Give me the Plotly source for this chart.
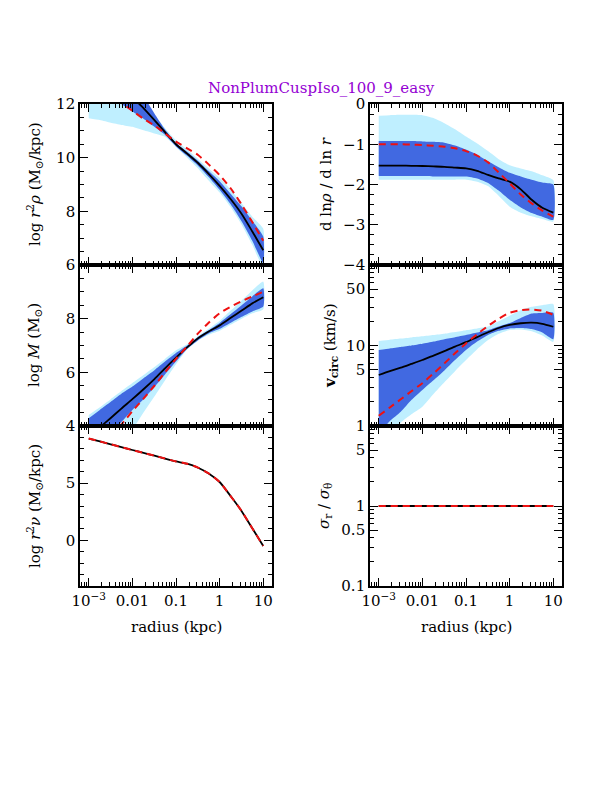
import plotly.graph_objects as go

# ---------------- data ----------------
radius = [0.001, 0.0018, 0.0032, 0.0056, 0.01, 0.018, 0.032, 0.056, 0.1,
          0.18, 0.32, 0.56, 1.0, 1.8, 3.2, 5.6, 10.0]

# panel: log r^2 rho
rho_fit = [13.9, 13.5, 13.1, 12.7, 12.25, 11.85, 11.4, 10.95, 10.5, 10.15, 9.8, 9.4, 8.95, 8.45, 7.9, 7.25, 6.55]
rho_true = [13.0, 12.7, 12.4, 12.05, 11.75, 11.45, 11.2, 10.9, 10.6, 10.35, 10.1, 9.75, 9.35, 8.85, 8.25, 7.6, 6.9]
rho_lo95 = [11.47, 11.4, 11.3, 11.22, 11.15, 11.02, 10.9, 10.78, 10.4, 10.0, 9.6, 9.15, 8.7, 8.15, 7.5, 6.75, 5.9]
rho_hi95 = [14.5, 14.0, 13.5, 13.1, 12.6, 12.1, 11.6, 11.1, 10.65, 10.3, 9.95, 9.6, 9.25, 8.8, 8.3, 7.8, 7.35]
rho_lo68 = [12.8, 12.5, 12.25, 12.0, 11.72, 11.45, 11.15, 10.85, 10.42, 10.07, 9.7, 9.28, 8.8, 8.25, 7.62, 6.9, 6.07]
rho_hi68 = [15.0, 14.5, 14.0, 13.5, 12.9, 12.3, 11.65, 11.05, 10.55, 10.22, 9.88, 9.5, 9.12, 8.65, 8.18, 7.65, 7.06]

# panel: log M
mass_fit = [3.6, 3.95, 4.3, 4.65, 5.0, 5.37, 5.75, 6.15, 6.55, 6.93, 7.27, 7.52, 7.75, 8.03, 8.3, 8.57, 8.8]
mass_true = [2.6, 3.05, 3.55, 4.05, 4.55, 5.02, 5.5, 6.0, 6.5, 6.97, 7.45, 7.85, 8.2, 8.45, 8.65, 8.83, 9.0]
mass_lo95 = [1.5, 2.0, 2.6, 3.25, 3.85, 4.5, 5.1, 5.7, 6.3, 6.85, 7.18, 7.4, 7.55, 7.78, 8.0, 8.2, 8.35]
mass_hi95 = [4.41, 4.7, 5.0, 5.3, 5.6, 5.9, 6.2, 6.5, 6.82, 7.05, 7.35, 7.62, 7.92, 8.3, 8.68, 9.05, 9.38]
mass_lo68 = [2.8, 3.3, 3.75, 4.15, 4.6, 5.0, 5.45, 5.92, 6.4, 6.88, 7.2, 7.45, 7.62, 7.85, 8.07, 8.27, 8.45]
mass_hi68 = [4.29, 4.6, 4.9, 5.2, 5.47, 5.78, 6.08, 6.4, 6.72, 7.0, 7.32, 7.57, 7.84, 8.17, 8.5, 8.83, 9.13]

# panel: log r^2 nu (tracer)
nu_fit = [8.9, 8.65, 8.4, 8.15, 7.9, 7.65, 7.4, 7.15, 6.9, 6.7, 6.35, 5.85, 5.1, 3.85, 2.55, 1.05, -0.5]
nu_true = [8.9, 8.65, 8.4, 8.15, 7.9, 7.65, 7.4, 7.15, 6.9, 6.7, 6.35, 5.85, 5.1, 3.85, 2.55, 1.05, -0.5]

# panel: d ln rho / d ln r
slope_fit = [-1.53, -1.53, -1.53, -1.535, -1.54, -1.55, -1.56, -1.58, -1.6, -1.66, -1.76, -1.85, -1.93, -2.12, -2.38, -2.58, -2.7]
slope_true = [-1.0, -1.0, -1.0, -1.01, -1.02, -1.04, -1.06, -1.1, -1.17, -1.28, -1.45, -1.7, -1.97, -2.25, -2.47, -2.65, -2.8]
slope_lo95 = [-1.88, -1.88, -1.88, -1.88, -1.88, -1.88, -1.88, -1.88, -1.88, -1.93, -2.04, -2.28, -2.55, -2.7, -2.79, -2.86, -2.92]
slope_hi95 = [-0.29, -0.28, -0.27, -0.27, -0.28, -0.35, -0.48, -0.63, -0.81, -0.98, -1.17, -1.37, -1.52, -1.6, -1.67, -1.77, -1.89]
slope_lo68 = [-1.79, -1.79, -1.79, -1.79, -1.79, -1.8, -1.8, -1.8, -1.8, -1.85, -1.96, -2.15, -2.38, -2.57, -2.71, -2.8, -2.88]
slope_hi68 = [-0.92, -0.92, -0.92, -0.92, -0.93, -0.94, -0.96, -1.03, -1.13, -1.26, -1.42, -1.57, -1.71, -1.8, -1.88, -1.95, -2.0]

# panel: v_circ (km/s)
vc_fit = [4.3, 4.8, 5.3, 5.9, 6.6, 7.5, 8.5, 9.7, 11.0, 12.7, 14.6, 16.5, 18.0, 18.9, 19.2, 18.6, 17.1]
vc_true = [1.34, 1.7, 2.15, 2.7, 3.4, 4.5, 6.0, 8.0, 10.6, 13.8, 17.5, 21.5, 25.5, 27.5, 28.0, 27.0, 24.0]
vc_lo95 = [0.4, 0.7, 1.1, 1.4, 1.74, 2.5, 3.5, 4.8, 6.6, 9.0, 11.7, 14.0, 15.6, 15.8, 15.0, 13.3, 11.1]
vc_hi95 = [11.4, 11.8, 12.2, 12.6, 13.0, 13.5, 14.0, 14.7, 15.5, 16.3, 17.2, 20.0, 23.5, 27.5, 30.3, 31.7, 32.7]
vc_lo68 = [0.8, 1.15, 1.5, 2.1, 2.8, 3.7, 4.9, 6.6, 8.8, 11.2, 13.5, 15.2, 16.3, 16.5, 16.0, 14.5, 12.0]
vc_hi68 = [8.8, 9.2, 9.6, 10.0, 10.5, 11.2, 12.0, 12.7, 13.5, 14.5, 15.5, 17.2, 19.0, 22.0, 25.0, 25.4, 25.5]

# panel: sigma_r / sigma_theta
beta_fit = [1.0] * 17
beta_true = [1.0] * 17

x_tickvals = [0.001, 0.01, 0.1, 1, 10]
x_ticktext = ["10<sup>\u22123</sup>", "0.01", "0.1", "1", "10"]

TITLE = "NonPlumCuspIso_100_9_easy"

# ---------------- style ----------------
LIGHT = "#bfefff"
DARK = "#4169e1"
FONT = "DejaVu Serif"
# the page body has an 8px margin: the figure spans 8..612 x 8..792
OFF = 8
W, H = 612 - OFF, 792 - OFF

def xdom(x0, x1):
    return [(x0 - OFF) / W, (x1 - OFF) / W]

def ydom(top, bot):
    return [(H - (bot - OFF)) / H, (H - (top - OFF)) / H]

XL = xdom(80, 272)
XR = xdom(370, 562)
Y1 = ydom(104, 265)
Y2 = ydom(265, 426)
Y3 = ydom(426, 586)

fig = go.Figure()

def band(ax, lo, hi, color):
    fig.add_trace(go.Scatter(
        x=radius + radius[::-1], y=hi + lo[::-1], fill="toself",
        fillcolor=color, line=dict(width=0, shape="spline", smoothing=0.5), mode="lines",
        hoverinfo="skip", showlegend=False, xaxis="x" + ax, yaxis="y" + ax))

def lines(ax, fit, true):
    fig.add_trace(go.Scatter(x=radius, y=fit, mode="lines",
                             line=dict(color="black", width=1.8, shape="spline", smoothing=0.6),
                             showlegend=False, xaxis="x" + ax, yaxis="y" + ax))
    fig.add_trace(go.Scatter(x=radius, y=true, mode="lines",
                             line=dict(color="#ee1111", width=2, dash="7px,5px", shape="spline", smoothing=0.6),
                             showlegend=False, xaxis="x" + ax, yaxis="y" + ax))

band("", rho_lo95, rho_hi95, LIGHT)
band("", rho_lo68, rho_hi68, DARK)
lines("", rho_fit, rho_true)
band("2", slope_lo95, slope_hi95, LIGHT)
band("2", slope_lo68, slope_hi68, DARK)
lines("2", slope_fit, slope_true)
band("3", mass_lo95, mass_hi95, LIGHT)
band("3", mass_lo68, mass_hi68, DARK)
lines("3", mass_fit, mass_true)
band("4", vc_lo95, vc_hi95, LIGHT)
band("4", vc_lo68, vc_hi68, DARK)
lines("4", vc_fit, vc_true)
lines("5", nu_fit, nu_true)
lines("6", beta_fit, beta_true)

minor_x = [m * 10 ** e for e in range(-4, 2) for m in range(2, 10)]

COMMON = dict(ticks="inside", ticklen=8, tickwidth=1.2, tickcolor="black",
              showline=True, linecolor="black", linewidth=1.6, mirror="allticks",
              showgrid=False, zeroline=False, automargin=False,
              tickfont=dict(family=FONT, size=15, color="black"))

def xaxis(domain, anchor, labels):
    return dict(domain=domain, anchor=anchor, type="log", range=[-3.2, 1.2],
                tickvals=x_tickvals, ticktext=x_ticktext, showticklabels=labels,
                minor=dict(tickvals=minor_x, ticks="inside", ticklen=4, tickwidth=1, tickcolor="black"),
                **COMMON)

def ylin(domain, anchor, rng, tickvals, minor_dtick):
    return dict(domain=domain, anchor=anchor, range=rng, tickvals=tickvals,
                minor=dict(dtick=minor_dtick, tick0=0, ticks="inside", ticklen=4, tickwidth=1, tickcolor="black"),
                **COMMON)

def ylog(domain, anchor, rng, tickvals, ticktext, minor_vals):
    return dict(domain=domain, anchor=anchor, type="log", range=rng,
                tickvals=tickvals, ticktext=ticktext,
                minor=dict(tickvals=minor_vals, ticks="inside", ticklen=4, tickwidth=1, tickcolor="black"),
                **COMMON)

minor_v = [m * 10 ** e for e in range(0, 2) for m in [2, 3, 4, 6, 7, 8, 9]]
minor_b = [m * 10 ** e for e in range(-1, 1) for m in [2, 3, 4, 6, 7, 8, 9]]

fig.update_layout(
    width=W, height=H, autosize=False,
    margin=dict(l=0, r=0, t=0, b=0, pad=0),
    paper_bgcolor="white", plot_bgcolor="white",
    showlegend=False,
    xaxis=xaxis(XL, "y", False),
    yaxis=ylin(Y1, "x", [6, 12], [6, 8, 10, 12], 0.5),
    xaxis2=xaxis(XR, "y2", False),
    yaxis2=ylin(Y1, "x2", [-4, 0], [-4, -3, -2, -1, 0], 0.25),
    xaxis3=xaxis(XL, "y3", False),
    yaxis3=ylin(Y2, "x3", [4, 10], [4, 6, 8], 0.5),
    xaxis4=xaxis(XR, "y4", False),
    yaxis4=ylog(Y2, "x4", [0, 2], [1, 5, 10, 50], ["1", "5", "10", "50"], minor_v),
    xaxis5=xaxis(XL, "y5", True),
    yaxis5=ylin(Y3, "x5", [-4, 10], [0, 5], 1),
    xaxis6=xaxis(XR, "y6", True),
    yaxis6=ylog(Y3, "x6", [-1, 1], [0.1, 0.5, 1, 5], ["0.1", "0.5", "1", "5"], minor_b),
)

def ann(text, x, y, angle=0, size=15, color="black"):
    fig.add_annotation(text=text, x=(x - OFF) / W, y=(H - (y - OFF)) / H, xref="paper", yref="paper",
                       showarrow=False, textangle=angle, xanchor="center", yanchor="middle",
                       font=dict(family=FONT, size=size, color=color))

ann(TITLE, 321, 88, size=15, color="#9400d3")
ann("log <i>r</i><sup>2</sup><i>\u03c1</i> (M<sub>\u2299</sub>/kpc)", 34, 184, -90)
ann("log <i>M</i> (M<sub>\u2299</sub>)", 34, 345, -90)
ann("log <i>r</i><sup>2</sup><i>\u03bd</i> (M<sub>\u2299</sub>/kpc)", 34, 506, -90)
ann("d ln<i>\u03c1</i> / d ln <i>r</i>", 326, 184, -90)
ann("<b>v<sub>circ</sub></b> (km/s)", 330, 345, -90)
ann("<i>\u03c3</i><sub>r</sub> / <i>\u03c3</i><sub>\u03b8</sub>", 324, 506, -90)
ann("radius (kpc)", 176, 627)
ann("radius (kpc)", 466, 627)

fig.write_html("out.html")
